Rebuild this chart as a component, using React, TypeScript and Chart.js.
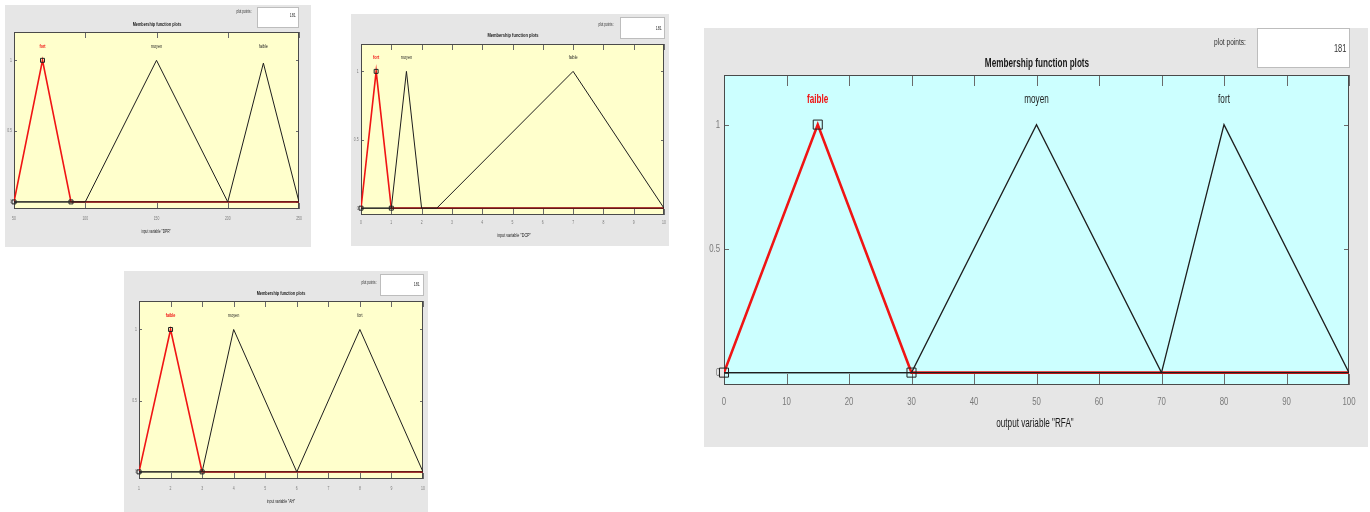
import React, { useEffect, useRef } from "react";
import { Chart, registerables } from "chart.js";

Chart.register(...registerables);

// ---- membership function data ----
const yRange = [-0.05, 1.2];
const yTicks = [0, 0.5, 1];
const yTickLabels = ["0", "0.5", "1"];
const nameLevel = 1.1;
const plotPoints = 181;

const dprRange = [50, 250];
const dprTicks = [50, 100, 150, 200, 250];
const dprNames = ["fort", "moyen", "faible"];
const dprParams = [[50, 70, 90], [100, 150, 200], [200, 225, 250]];
const dprPeaks = [1, 1, 0.98];

const dcpRange = [0, 10];
const dcpTicks = [0, 1, 2, 3, 4, 5, 6, 7, 8, 9, 10];
const dcpNames = ["fort", "moyen", "faible"];
const dcpParams = [[0, 0.5, 1], [1, 1.5, 2], [2.5, 7, 10]];
const dcpPeaks = [1, 1, 1];

const ahRange = [1, 10];
const ahTicks = [1, 2, 3, 4, 5, 6, 7, 8, 9, 10];
const ahNames = ["faible", "moyen", "fort"];
const ahParams = [[1, 2, 3], [3, 4, 6], [6, 8, 10]];
const ahPeaks = [1, 1, 1];

const rfaRange = [0, 100];
const rfaTicks = [0, 10, 20, 30, 40, 50, 60, 70, 80, 90, 100];
const rfaNames = ["faible", "moyen", "fort"];
const rfaParams = [[0, 15, 30], [30, 50, 70], [70, 80, 100]];
const rfaPeaks = [1, 1, 1];

// ---- look ----
const FONT = '"Liberation Sans", Arial, sans-serif';
const SX = 0.68; // narrow text
const GREY = "#e6e6e6";
const RED = "#f01414";
const INK = "#1e1e1e";
const TICKTXT = "#7a7a7a";
const YELLOW = "#ffffcc";
const CYAN = "#ccffff";

type Spec = {
  id: string;
  axisLabel: string;
  range: number[];
  ticks: number[];
  names: string[];
  params: number[][];
  peaks: number[];
  selected: number;
  bg: string;
  box: { x: number; y: number; w: number; h: number };
  plot: { l: number; t: number; r: number; b: number };
  xH: number;
  tickSize: number;
  xLabOff: number;
  yLabGap: number;
  xTick: number;
  yTick: number;
  markR: number;
  redW: number;
  inkW: number;
  nameSize: number;
  title: { cx: number; cy: number; size: number };
  pts: { cx: number; cy: number; size: number };
  ptsBox: { x: number; y: number; w: number; h: number; right: number; cy: number; size: number };
  xlabel: { cx: number; cy: number; size: number };
};

const panels: Spec[] = [
  {
    id: "dpr", axisLabel: 'input variable "DPR"',
    range: dprRange, ticks: dprTicks, names: dprNames, params: dprParams, peaks: dprPeaks, selected: 0, bg: YELLOW,
    box: { x: 5, y: 5, w: 306, h: 242 }, plot: { l: 14, t: 32, r: 299, b: 209 },
    xH: 15, tickSize: 5, xLabOff: 9.3, yLabGap: 2, xTick: 6, yTick: 3, markR: 2.8, redW: 1.6, inkW: 1, nameSize: 5.5,
    title: { cx: 157, cy: 25, size: 5.6 }, pts: { cx: 244, cy: 12, size: 4.6 },
    ptsBox: { x: 257, y: 7, w: 42, h: 21, right: 296, cy: 16, size: 5.3 }, xlabel: { cx: 156, cy: 232, size: 4.8 },
  },
  {
    id: "dcp", axisLabel: 'input variable "DCP"',
    range: dcpRange, ticks: dcpTicks, names: dcpNames, params: dcpParams, peaks: dcpPeaks, selected: 0, bg: YELLOW,
    box: { x: 351, y: 14, w: 318, h: 232 }, plot: { l: 361, t: 44, r: 666, b: 215 },
    xH: 15, tickSize: 5, xLabOff: 7.7, yLabGap: 2.4, xTick: 6, yTick: 3, markR: 2.8, redW: 1.6, inkW: 1, nameSize: 5.5,
    title: { cx: 513, cy: 36, size: 5.9 }, pts: { cx: 606, cy: 25, size: 4.6 },
    ptsBox: { x: 620, y: 17, w: 45, h: 22, right: 662, cy: 29, size: 5.3 }, xlabel: { cx: 514, cy: 236, size: 5.5 },
  },
  {
    id: "ah", axisLabel: 'input variable "AH"',
    range: ahRange, ticks: ahTicks, names: ahNames, params: ahParams, peaks: ahPeaks, selected: 0, bg: YELLOW,
    box: { x: 124, y: 271, w: 304, h: 241 }, plot: { l: 139, t: 301, r: 424, b: 479 },
    xH: 15, tickSize: 5, xLabOff: 9.7, yLabGap: 2, xTick: 6, yTick: 3, markR: 2.8, redW: 1.6, inkW: 1, nameSize: 5.5,
    title: { cx: 281, cy: 294, size: 5.6 }, pts: { cx: 369, cy: 283, size: 4.6 },
    ptsBox: { x: 380, y: 274, w: 44, h: 22, right: 420, cy: 285, size: 5.3 }, xlabel: { cx: 281, cy: 501, size: 5 },
  },
  {
    id: "rfa", axisLabel: 'output variable "RFA"',
    range: rfaRange, ticks: rfaTicks, names: rfaNames, params: rfaParams, peaks: rfaPeaks, selected: 0, bg: CYAN,
    box: { x: 704, y: 28, w: 664, h: 419 }, plot: { l: 724, t: 75, r: 1349, b: 385 },
    xH: 30, tickSize: 11.5, xLabOff: 17, yLabGap: 4, xTick: 11, yTick: 5, markR: 6.4, redW: 2.6, inkW: 1.3, nameSize: 12,
    title: { cx: 1037, cy: 63, size: 12 }, pts: { cx: 1230, cy: 42, size: 9.7 },
    ptsBox: { x: 1257, y: 28, w: 93, h: 40, right: 1346, cy: 48, size: 11 }, xlabel: { cx: 1035, cy: 423, size: 12 },
  },
];

function narrowText(ctx: CanvasRenderingContext2D, s: string, x: number, y: number, align: CanvasTextAlign) {
  ctx.save();
  ctx.translate(x, y);
  ctx.scale(SX, 1);
  ctx.textAlign = align;
  ctx.textBaseline = "middle";
  ctx.fillText(s, 0, 0);
  ctx.restore();
}

function decorPlugin(p: Spec) {
  return {
    id: "mfDecor",
    beforeDatasetsDraw(chart: any) {
      const { ctx, chartArea: a, scales } = chart;
      const x = scales.x, y = scales.y;
      ctx.save();
      ctx.fillStyle = p.bg;
      ctx.fillRect(a.left, a.top, a.width, a.height);
      // inward tick marks on all four sides
      ctx.strokeStyle = "#6a6a6a";
      ctx.lineWidth = 1;
      ctx.beginPath();
      for (const t of x.ticks) {
        const px = Math.round(x.getPixelForValue(t.value)) + 0.5;
        ctx.moveTo(px, a.bottom);
        ctx.lineTo(px, a.bottom - p.xTick);
        ctx.moveTo(px, a.top);
        ctx.lineTo(px, a.top + p.xTick);
      }
      for (const t of y.ticks) {
        const py = Math.round(y.getPixelForValue(t.value)) + 0.5;
        ctx.moveTo(a.left, py);
        ctx.lineTo(a.left + p.yTick, py);
        ctx.moveTo(a.right, py);
        ctx.lineTo(a.right - p.yTick, py);
      }
      ctx.stroke();
      ctx.strokeStyle = "#4a4a4a";
      ctx.strokeRect(a.left + 0.5, a.top + 0.5, a.width - 1, a.height - 1);
      // tick labels
      ctx.fillStyle = TICKTXT;
      ctx.font = `${p.tickSize}px ${FONT}`;
      for (const t of x.ticks) {
        narrowText(ctx, String(t.value), x.getPixelForValue(t.value), a.bottom + p.xLabOff, "center");
      }
      y.ticks.forEach((t: any) => {
        const i = yTicks.indexOf(t.value);
        narrowText(ctx, yTickLabels[i], a.left - p.yLabGap, y.getPixelForValue(t.value), "right");
      });
      ctx.restore();
    },
    afterDatasetsDraw(chart: any) {
      const { ctx, scales } = chart;
      const x = scales.x, y = scales.y;
      ctx.save();
      p.names.forEach((n, i) => {
        const sel = i === p.selected;
        ctx.font = `${sel ? "bold " : ""}${p.nameSize}px ${FONT}`;
        ctx.fillStyle = sel ? RED : INK;
        narrowText(ctx, n, x.getPixelForValue(p.params[i][1]), y.getPixelForValue(nameLevel), "center");
      });
      ctx.restore();
    },
  };
}

function buildDatasets(p: Spec) {
  const [lo, hi] = p.range;
  const mfs = p.params.map((abc, i) => ({
    data: [
      { x: lo, y: 0 },
      { x: abc[0], y: 0 },
      { x: abc[1], y: p.peaks[i] },
      { x: abc[2], y: 0 },
      { x: hi, y: 0 },
    ],
    borderColor: i === p.selected ? RED : INK,
    borderWidth: i === p.selected ? p.redW : p.inkW,
    order: i === p.selected ? 3 : 2,
    pointRadius: 0,
    fill: false,
    tension: 0,
  }));
  const sel = p.params[p.selected];
  const marks = {
    data: [
      { x: sel[0], y: 0 },
      { x: sel[1], y: p.peaks[p.selected] },
      { x: sel[2], y: 0 },
    ],
    showLine: false,
    pointStyle: "rect",
    pointRadius: p.markR,
    pointBorderColor: "#202020",
    pointBackgroundColor: "rgba(0,0,0,0)",
    pointBorderWidth: 1,
    order: 1,
    clip: false,
  };
  return [...mfs, marks];
}

function MfPanel({ p }: { p: Spec }) {
  const ref = useRef<HTMLCanvasElement>(null);
  useEffect(() => {
    const { box, plot } = p;
    const yW = plot.l - box.x;
    const chart = new Chart(ref.current as HTMLCanvasElement, {
      type: "line",
      data: { datasets: buildDatasets(p) as any },
      options: {
        animation: false,
        responsive: false,
        maintainAspectRatio: false,
        events: [],
        layout: {
          padding: {
            left: 0,
            top: plot.t - box.y,
            right: box.x + box.w - plot.r,
            bottom: box.y + box.h - plot.b - p.xH,
          },
        },
        plugins: { legend: { display: false }, tooltip: { enabled: false }, title: { display: false } },
        scales: {
          x: {
            type: "linear",
            min: p.range[0],
            max: p.range[1],
            afterBuildTicks: (s: any) => { s.ticks = p.ticks.map((v) => ({ value: v })); },
            afterFit: (s: any) => { s.height = p.xH; },
            grid: { display: false, drawTicks: false },
            border: { display: false },
            ticks: { display: false },
          },
          y: {
            type: "linear",
            min: yRange[0],
            max: yRange[1],
            afterBuildTicks: (s: any) => { s.ticks = yTicks.map((v) => ({ value: v })); },
            afterFit: (s: any) => { s.width = yW; },
            grid: { display: false, drawTicks: false },
            border: { display: false },
            ticks: { display: false },
          },
        },
      } as any,
      plugins: [decorPlugin(p)],
    });
    return () => chart.destroy();
  }, [p]);

  const { box } = p;
  const txt = (cx: number, cy: number, size: number, s: string, extra: React.CSSProperties = {}) => (
    <div
      style={{
        position: "absolute",
        left: cx - box.x,
        top: cy - box.y,
        transform: `translate(-50%, -50%) scaleX(${SX})`,
        fontFamily: FONT,
        fontSize: size,
        lineHeight: 1,
        whiteSpace: "nowrap",
        color: "#1a1a1a",
        ...extra,
      }}
    >
      {s}
    </div>
  );

  return (
    <div style={{ position: "absolute", left: box.x, top: box.y, width: box.w, height: box.h, background: GREY }}>
      <canvas ref={ref} width={box.w} height={box.h} style={{ position: "absolute", left: 0, top: 0, display: "block" }} />
      {txt(p.title.cx, p.title.cy, p.title.size, "Membership function plots", { fontWeight: "bold" })}
      {txt(p.pts.cx, p.pts.cy, p.pts.size, "plot points:", { color: "#333" })}
      <div
        style={{
          position: "absolute",
          left: p.ptsBox.x - box.x,
          top: p.ptsBox.y - box.y,
          width: p.ptsBox.w,
          height: p.ptsBox.h,
          background: "#ffffff",
          border: "1px solid #bdbdbd",
          boxSizing: "border-box",
        }}
      />
      <div
        style={{
          position: "absolute",
          right: box.x + box.w - p.ptsBox.right,
          top: p.ptsBox.cy - box.y,
          transform: `translateY(-50%) scaleX(${SX})`,
          transformOrigin: "right center",
          fontFamily: FONT,
          fontSize: p.ptsBox.size,
          lineHeight: 1,
          color: "#333",
        }}
      >
        {String(plotPoints)}
      </div>
      {txt(p.xlabel.cx, p.xlabel.cy, p.xlabel.size, p.axisLabel)}
    </div>
  );
}

export default function App() {
  return (
    <div style={{ position: "absolute", left: 0, top: 0, width: 1370, height: 512, background: "#ffffff", overflow: "hidden" }}>
      {panels.map((p) => (
        <MfPanel key={p.id} p={p} />
      ))}
    </div>
  );
}
